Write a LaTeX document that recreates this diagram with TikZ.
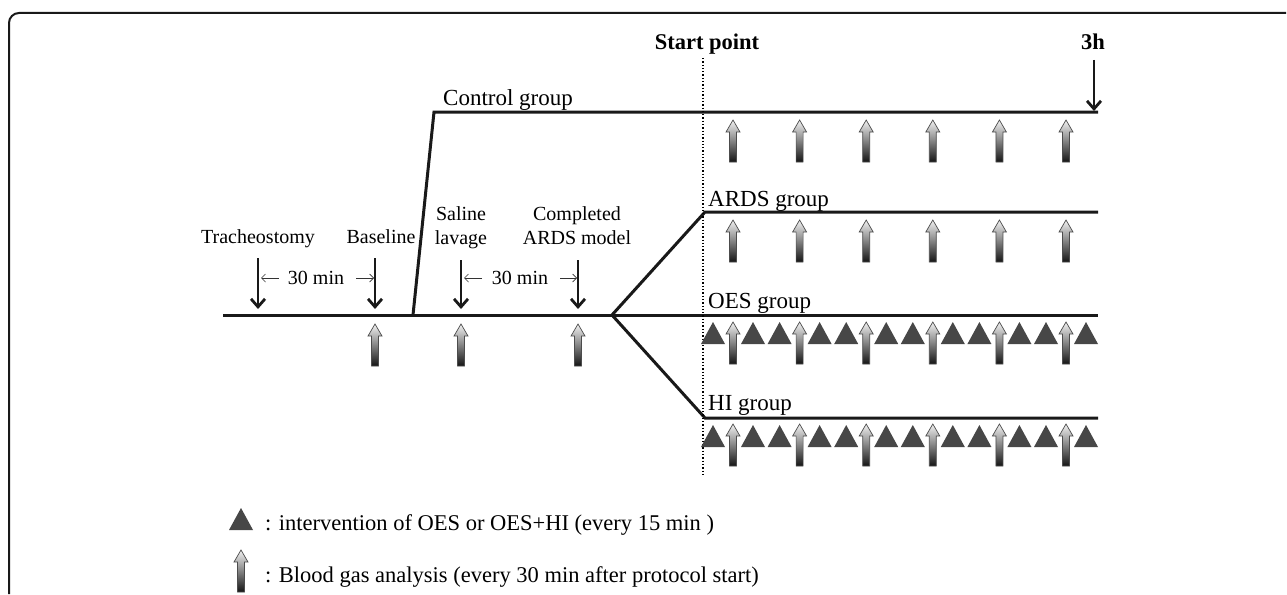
\documentclass[tikz,border=0pt]{standalone}
\usepackage{fontspec}
\setmainfont{Liberation Serif}
\usetikzlibrary{arrows.meta}
\begin{document}
\begin{tikzpicture}[x=1pt,y=-1pt,
  tl/.style={line width=3pt, black!90, line join=miter},
  blk/.style={line width=2.8pt, black!90, -{Straight Barb[length=8pt,width=14pt]}},
  small/.style={line width=0.7pt, black!80, -{Straight Barb[length=4pt,width=8pt]}},
  lab/.style={inner sep=0pt, font=\fontsize{20}{24}\selectfont, align=center},
  grp/.style={inner sep=0pt, anchor=base west, font=\fontsize{23}{27}\selectfont},
  leg/.style={inner sep=0pt, anchor=base west, font=\fontsize{22.5}{27}\selectfont},
  bld/.style={inner sep=0pt, anchor=base, font=\fontsize{22.5}{27}\selectfont\bfseries},
  bga/.pic={\shade[top color=gray!10, bottom color=black!92, draw=black!70, line width=0.7pt]
     (0,0) -- (7,12) -- (3.5,12) -- (3.5,42) -- (-3.5,42) -- (-3.5,12) -- (-7,12) -- cycle;},
  tri/.pic={\fill[black!72] (0,0) -- (12,22) -- (-12,22) -- cycle;}
]
\useasboundingbox (0,0) rectangle (1287,594);
% frame
\draw[line width=2pt, black!90, rounded corners=10pt] (9,594) -- (9,13) -- (1286,13);

% timeline coordinates
\coordinate (L0) at (223,315);
\coordinate (C0) at (413,315);
\coordinate (C1) at (434,112);
\coordinate (C2) at (1098,112);
\coordinate (B)  at (612,315);
\coordinate (A1) at (705,212);
\coordinate (A2) at (1098,212);
\coordinate (O2) at (1098,315);
\coordinate (H1) at (705,418);
\coordinate (H2) at (1098,418);

\draw[tl] (L0) -- (B) -- (O2);
\draw[tl] (C0) -- (C1) -- (C2);
\draw[tl] (B) -- (A1) -- (A2);
\draw[tl] (B) -- (H1) -- (H2);

% dotted start line
\coordinate (S0) at (703,58);
\coordinate (S1) at (703,477);
\draw[dotted, line width=1.3pt] (S0) -- (S1);
\node[bld] (sp) at (707,49) {Start point};
\node[bld] (th) at (1093,49) {3h};
\coordinate (T0) at (1094,60);
\coordinate (T1) at (1094,111);
\draw[blk] (T0) -- (T1);

% group labels
\node[grp] (cg) at (443,105) {Control group};
\node[grp] (ag) at (708,206) {ARDS group};
\node[grp] (og) at (708,308) {OES group};
\node[grp] (hg) at (708,410) {HI group};

% pre-protocol labels and arrows
\node[lab, anchor=base] (tr) at (258,243) {Tracheostomy};
\node[lab, anchor=base] (bl) at (381,243) {Baseline};
\node[lab, anchor=north] (sl) at (461,206) {Saline\\lavage};
\node[lab, anchor=north] (cm) at (577,206) {Completed\\ARDS model};

\coordinate (a1t) at (258,258); \coordinate (a1b) at (258,309);
\coordinate (a2t) at (375,258); \coordinate (a2b) at (375,309);
\coordinate (a3t) at (461,260); \coordinate (a3b) at (461,309);
\coordinate (a4t) at (578,260); \coordinate (a4b) at (578,309);
\draw[blk] (a1t) -- (a1b);
\draw[blk] (a2t) -- (a2b);
\draw[blk] (a3t) -- (a3b);
\draw[blk] (a4t) -- (a4b);

% 30 min intervals
\node[lab, anchor=base] (m1) at (316,284) {30 min};
\node[lab, anchor=base] (m2) at (520,284) {30 min};
\coordinate (m1a) at (279,278); \coordinate (m1b) at (261,278);
\coordinate (m1c) at (356,278); \coordinate (m1d) at (374,278);
\coordinate (m2a) at (482,278); \coordinate (m2b) at (464,278);
\coordinate (m2c) at (560,278); \coordinate (m2d) at (577,278);
\draw[small] (m1a) -- (m1b);
\draw[small] (m1c) -- (m1d);
\draw[small] (m2a) -- (m2b);
\draw[small] (m2c) -- (m2d);

% blood gas arrows before protocol
\pic at (375,324) {bga};
\pic at (461,324) {bga};
\pic at (578,324) {bga};

% rows after start
\foreach \k in {0,...,5}{
  \pgfmathsetmacro{\xx}{733+66.6*\k}
  \pic at (\xx,120) {bga};
  \pic at (\xx,220) {bga};
  \pic at (\xx,322) {bga};
  \pic at (\xx,424) {bga};
  \pic at (\xx-20,322) {tri};
  \pic at (\xx+20,322) {tri};
  \pic at (\xx-20,425) {tri};
  \pic at (\xx+20,425) {tri};
}

% legend
\pic at (241,508) {tri};
\node[leg] (l1) at (265,530) {: intervention of OES or OES+HI (every 15 min )};
\pic at (241,550) {bga};
\node[leg] (l2) at (265,582) {: Blood gas analysis (every 30 min after protocol start)};
\end{tikzpicture}
\end{document}
